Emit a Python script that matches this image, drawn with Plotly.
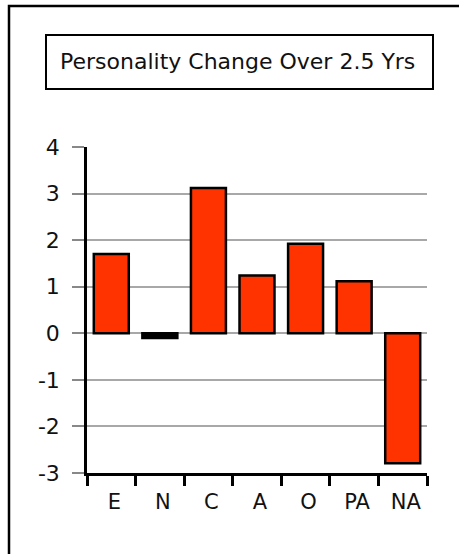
import plotly.graph_objects as go

categories = ["E", "N", "C", "A", "O", "PA", "NA"]
values = [1.70, -0.10, 3.12, 1.24, 1.92, 1.12, -2.79]
bar_colors = ["#FF3300", "#000000", "#FF3300", "#FF3300", "#FF3300", "#FF3300", "#FF3300"]
y_tick_vals = [-3, -2, -1, 0, 1, 2, 3, 4]
y_tick_text = ["-3", "-2", "-1", "0", "1", "2", "3", "4"]
title_text = "Personality Change Over 2.5 Yrs"

FONT = "DejaVu Sans"

fig = go.Figure()
fig.add_trace(go.Bar(
    x=categories, y=values,
    marker=dict(color=bar_colors, line=dict(color="#000000", width=2.5)),
    width=0.72,
))

W, H = 459, 554
L, R, T, B = 87, 32, 147, 81
pw, ph = W - L - R, H - T - B

def px_x(x):
    return (x - L) / pw

def px_y(y):
    return (H - B - y) / ph

fig.update_layout(
    width=W, height=H,
    margin=dict(l=L, r=R, t=T, b=B, pad=0),
    paper_bgcolor="white", plot_bgcolor="white",
    showlegend=False,
    font=dict(family=FONT, size=21, color="#111111"),
    xaxis=dict(
        type="category", tickson="boundaries",
        showline=True, linecolor="#000000", linewidth=2.5,
        ticks="outside", ticklen=10, tickwidth=2.5, tickcolor="#000000",
        showgrid=False, tickfont=dict(size=21), ticklabelstandoff=8,
        ticklabelshift=3,
    ),
    yaxis=dict(
        range=[-3, 4], tickvals=y_tick_vals, ticktext=y_tick_text,
        showline=True, linecolor="#000000", linewidth=2.5,
        ticks="outside", ticklen=12, tickwidth=1.5, tickcolor="#888888",
        showgrid=True, gridcolor="#a8a8a8", gridwidth=1.5,
        zeroline=False, tickfont=dict(size=22), ticklabelstandoff=8,
    ),
    shapes=[
        dict(type="rect", xref="paper", yref="paper",
             x0=px_x(9), x1=px_x(480), y0=px_y(580), y1=px_y(6),
             line=dict(color="#000000", width=2.5), fillcolor="rgba(0,0,0,0)"),
        dict(type="rect", xref="paper", yref="paper",
             x0=px_x(46), x1=px_x(433), y0=px_y(89), y1=px_y(35),
             line=dict(color="#000000", width=2), fillcolor="rgba(0,0,0,0)"),
    ],
    annotations=[
        dict(text=title_text, xref="paper", yref="paper",
             x=px_x(237), y=px_y(62), xanchor="center", yanchor="middle",
             showarrow=False, font=dict(family=FONT, size=22, color="#111111")),
    ],
)

fig.write_html("out.html", config={"displayModeBar": False},
               post_script="document.body.style.margin='0';")
